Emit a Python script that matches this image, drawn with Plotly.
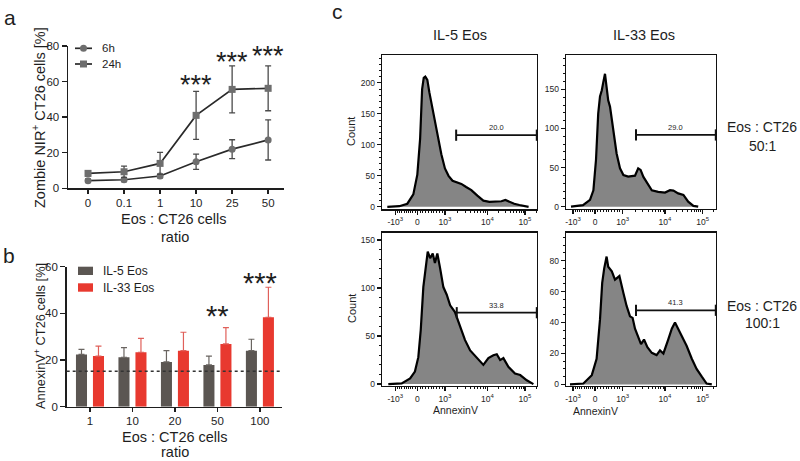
import plotly.graph_objects as go
import math

W, H = 800, 461
FONT = "Liberation Sans, Arial, Helvetica, sans-serif"
INK = "#1e1e1e"

def px(x):
    return x / W

def py(y):
    return 1 - y / H

def dom_x(a, b):
    return [a / W, b / W]

def dom_y(top, bottom):
    return [1 - bottom / H, 1 - top / H]

# ---------------- Panel a data ----------------
ratios_a = ["0", "0.1", "1", "10", "25", "50"]
zombie_6h = [4.3, 4.8, 6.9, 14.9, 22.0, 27.2]
zombie_6h_sd = [1.0, 1.0, 1.0, 4.3, 5.3, 11.3]
zombie_24h = [8.4, 9.3, 14.0, 41.0, 55.6, 56.2]
zombie_24h_sd = [1.5, 3.2, 6.2, 13.5, 13.2, 12.6]
stars_a = {"10": ("***", 61.2), "25": ("***", 74.1), "50": ("***", 78.0)}

# ---------------- Panel b data ----------------
ratios_b = ["1", "10", "20", "50", "100"]
annexin_il5 = [22.4, 21.2, 19.2, 17.9, 24.0]
annexin_il5_sd = [2.2, 4.1, 4.8, 3.8, 4.9]
annexin_il33 = [21.7, 23.3, 24.0, 26.9, 38.3]
annexin_il33_sd = [4.3, 6.0, 7.9, 7.0, 12.9]
baseline_level = 15.2
stars_b = {"50": ("**", 41.4), "100": ("***", 55.6)}

# ---------------- Panel c data (display scale: decades-like units) ----------------
axis_tick_pos = [-0.55, 0.0, 0.69, 1.75, 2.69]
axis_tick_text = ["-10<sup>3</sup>", "0", "10<sup>3</sup>", "10<sup>4</sup>", "10<sup>5</sup>"]

tl_t = [-0.75, -0.45, -0.25, -0.1, 0.0, 0.07, 0.12, 0.16, 0.2, 0.25, 0.3, 0.36, 0.44, 0.52,
        0.6, 0.69, 0.78, 0.88, 1.0, 1.1, 1.22, 1.35, 1.5, 1.65, 1.8, 1.95, 2.1, 2.2, 2.3,
        2.42, 2.55, 2.68, 2.78]
tl_count = [0, 1, 5, 20, 52, 110, 190, 208, 210, 205, 185, 165, 140, 110, 85, 62, 50, 42,
            39, 37, 32, 27, 18, 10, 8, 9, 9, 11, 8, 5, 3, 1, 0]

tr_t = [-0.6, -0.3, -0.125, -0.04, 0.025, 0.08, 0.125, 0.17, 0.21, 0.25, 0.29, 0.33, 0.375,
        0.46, 0.54, 0.625, 0.71, 0.83, 1.0, 1.08, 1.14, 1.21, 1.29, 1.42, 1.58, 1.75, 1.875,
        1.96, 2.08, 2.21, 2.33, 2.46, 2.58]
tr_count = [0, 2, 8.6, 21, 60, 119, 141, 149, 160, 170, 153, 136, 128, 94, 68, 49, 40.5,
            38.4, 39.6, 49, 47, 38, 32, 21, 19, 18, 21, 20.5, 17, 15, 6.4, 1, 0]

bl_t = [-0.725, -0.39, -0.18, -0.06, 0.025, 0.085, 0.15, 0.22, 0.26, 0.32, 0.385, 0.44, 0.5,
        0.57, 0.65, 0.735, 0.82, 0.94, 1.07, 1.19, 1.32, 1.485, 1.65, 1.775, 1.9, 1.985,
        2.07, 2.15, 2.275, 2.44, 2.57, 2.735, 2.9]
bl_count = [0, 0.7, 6, 13, 28, 56, 101, 129, 138, 131, 136, 126, 136, 120.5, 101, 93, 82,
            75, 60, 46, 35, 27, 20, 27, 30, 31, 25, 27, 18, 11, 9.4, 4, 0]

br_t = [-0.625, -0.29, -0.08, 0.04, 0.125, 0.18, 0.23, 0.29, 0.33, 0.42, 0.5, 0.61, 0.71,
        0.79, 0.875, 0.94, 1.0, 1.08, 1.15, 1.225, 1.31, 1.42, 1.54, 1.625, 1.71, 1.83,
        1.92, 2.0, 2.08, 2.17, 2.29, 2.42, 2.54, 2.67, 2.79, 2.92]
br_count = [0, 0.6, 6, 16.6, 42, 65.6, 75, 82.6, 76, 73, 67.7, 70, 59, 50.7, 44, 43, 36,
            30.5, 26, 29, 24, 20.4, 19, 22, 20, 29, 36, 40, 36, 31.5, 25, 16.6, 10, 5, 0.6, 0]

gate_start = [0.97, 1.025, 0.985, 1.025]
gate_end = [2.985, 3.02, 2.985, 3.02]
gate_level = [115.6, 91.7, 74.3, 47.9]
gate_pct = ["20.0", "29.0", "33.8", "41.3"]

fig = go.Figure()

# ---------- Panel a traces ----------
for name, vals, sd, sym in [("6h", zombie_6h, zombie_6h_sd, "circle"),
                            ("24h", zombie_24h, zombie_24h_sd, "square")]:
    fig.add_trace(go.Scatter(
        x=ratios_a, y=vals, mode="lines+markers", name=name,
        error_y=dict(type="data", array=sd, color="#4a4a4a", thickness=1.3, width=3),
        marker=dict(symbol=sym, size=7, color="#6e6e6e"),
        line=dict(color="#2a2a2a", width=1.7),
        xaxis="x", yaxis="y", showlegend=False, cliponaxis=False))

# ---------- Panel b traces ----------
fig.add_trace(go.Bar(
    x=ratios_b, y=annexin_il5, name="IL-5 Eos", marker=dict(color="#5b5652", line=dict(width=0)),
    width=0.26, offset=-0.33,
    error_y=dict(type="data", array=annexin_il5_sd, arrayminus=[0] * len(ratios_b),
                 symmetric=False, color="#6a6561", thickness=1.2, width=3),
    xaxis="x2", yaxis="y2", showlegend=False))
fig.add_trace(go.Bar(
    x=ratios_b, y=annexin_il33, name="IL-33 Eos", marker=dict(color="#e8392f", line=dict(width=0)),
    width=0.26, offset=0.07,
    error_y=dict(type="data", array=annexin_il33_sd, arrayminus=[0] * len(ratios_b),
                 symmetric=False, color="#e0605a", thickness=1.2, width=3),
    xaxis="x2", yaxis="y2", showlegend=False))

# ---------- Panel c traces ----------
hists = [(tl_t, tl_count, "x3", "y3"), (tr_t, tr_count, "x4", "y4"),
         (bl_t, bl_count, "x5", "y5"), (br_t, br_count, "x6", "y6")]
for i, (t, c, xa, ya) in enumerate(hists):
    fig.add_trace(go.Scatter(
        x=t, y=c, mode="lines", fill="tozeroy", fillcolor="#858585",
        line=dict(color="#000000", width=2.2), xaxis=xa, yaxis=ya, showlegend=False))
    fig.add_trace(go.Scatter(
        x=[gate_start[i], gate_end[i]], y=[gate_level[i], gate_level[i]],
        mode="lines+markers", line=dict(color="#111111", width=1.8),
        marker=dict(symbol="line-ns-open", size=8, line=dict(width=2, color="#111111")),
        xaxis=xa, yaxis=ya, showlegend=False, cliponaxis=False))

# ---------- Axes ----------
common = dict(showline=True, linecolor=INK, linewidth=1.5, ticks="outside", tickcolor=INK,
              tickwidth=1.5, ticklen=5, showgrid=False, zeroline=False, automargin=False,
              tickfont=dict(family=FONT, size=11.5, color=INK))
xcommon = dict(common, ticklen=4, ticklabelstandoff=-1)

layout = dict(
    width=W, height=H, margin=dict(l=0, r=0, t=0, b=0, autoexpand=False),
    paper_bgcolor="white", plot_bgcolor="white", showlegend=False,
    font=dict(family=FONT, color=INK),
    xaxis=dict(domain=dom_x(68, 284), anchor="y", type="category",
               range=[-0.556, 5.44], **xcommon),
    yaxis=dict(domain=dom_y(46, 188.3), anchor="x", range=[0, 80], dtick=20, **common),
    xaxis2=dict(domain=dom_x(66.7, 282), anchor="y2", type="category",
                range=[-0.548, 4.52], **xcommon),
    yaxis2=dict(domain=dom_y(266.7, 406.7), anchor="x2", range=[0, 60], dtick=20, **common),
)

# minor ticks for biexponential-like x axis
def disp(v):
    if v == 0:
        return 0.0
    if abs(v) <= 1000:
        return v / 1000 * (0.69 if v > 0 else 0.55)
    k = math.floor(math.log10(v))
    pos = {3: 0.69, 4: 1.75, 5: 2.69}
    step = {3: 1.06, 4: 0.94, 5: 0.94}
    return pos[k] + math.log10(v / 10 ** k) * step[k]

minor_x = [disp(s * m * 100) for s in (-1, 1) for m in range(1, 10)]
minor_x += [disp(m * 10 ** k) for k in (3, 4, 5) for m in range(2, 10)]

hist_axes = [
    ("xaxis3", "yaxis3", dom_x(382, 537), dom_y(55, 209.3), [-0.8825, 2.99], [-4, 245], 50, 10),
    ("xaxis4", "yaxis4", dom_x(566, 716), dom_y(55, 209), [-0.725, 3.025], [-3, 194], 50, 10),
    ("xaxis5", "yaxis5", dom_x(382, 537), dom_y(232.7, 386), [-0.8825, 2.99], [-2, 157.6], 50, 10),
    ("xaxis6", "yaxis6", dom_x(566, 716), dom_y(232.7, 386), [-0.725, 3.025], [-1, 98], 20, 5),
]
hcommon = dict(showline=True, linecolor="#111111", linewidth=1.4, mirror=True, ticks="outside",
               tickcolor="#111111", tickwidth=1.2, ticklen=4, showgrid=False, zeroline=False,
               automargin=False, tickfont=dict(family=FONT, size=8.5, color=INK))
for xa, ya, dx, dy, xr, yr, dt, mdt in hist_axes:
    xid = "x" + xa[5:]
    yid = "y" + ya[5:]
    layout[xa] = dict(domain=dx, anchor=yid, range=xr, tickmode="array",
                      tickvals=axis_tick_pos, ticktext=axis_tick_text,
                      minor=dict(ticks="outside", ticklen=2, tickcolor="#111111", tickwidth=1,
                                 tickmode="array", tickvals=minor_x),
                      **hcommon)
    layout[ya] = dict(domain=dy, anchor=xid, range=yr, dtick=dt,
                      minor=dict(ticks="outside", ticklen=2, tickcolor="#111111", tickwidth=1,
                                 dtick=mdt),
                      **hcommon)

fig.update_layout(**layout)

# ---------- Shapes ----------
shapes = [
    dict(type="line", xref="x2 domain", yref="y2", x0=0, x1=1, y0=baseline_level,
         y1=baseline_level, line=dict(color="#333333", width=1.6, dash="dot")),
    # legend a
    dict(type="line", xref="paper", yref="paper", x0=px(75), x1=px(92), y0=py(48.3), y1=py(48.3),
         line=dict(color="#2a2a2a", width=1.7)),
    dict(type="circle", xref="paper", yref="paper", x0=px(80), x1=px(87), y0=py(51.8), y1=py(44.8),
         fillcolor="#6e6e6e", line=dict(width=0)),
    dict(type="line", xref="paper", yref="paper", x0=px(75), x1=px(92), y0=py(64), y1=py(64),
         line=dict(color="#2a2a2a", width=1.7)),
    dict(type="rect", xref="paper", yref="paper", x0=px(80), x1=px(87), y0=py(67.5), y1=py(60.5),
         fillcolor="#6e6e6e", line=dict(width=0)),
    # legend b
    dict(type="rect", xref="paper", yref="paper", x0=px(78), x1=px(93), y0=py(275), y1=py(266.7),
         fillcolor="#5b5652", line=dict(width=0)),
    dict(type="rect", xref="paper", yref="paper", x0=px(78), x1=px(93), y0=py(291.7), y1=py(283.3),
         fillcolor="#e8392f", line=dict(width=0)),
]
fig.update_layout(shapes=shapes)

# ---------- Annotations ----------
ann = []

def text(x, y, s, size, angle=0, xanchor="center", color=INK):
    ann.append(dict(x=px(x), y=py(y), xref="paper", yref="paper", text=s, showarrow=False,
                    xanchor=xanchor, yanchor="middle", textangle=angle,
                    font=dict(family=FONT, size=size, color=color)))

text(10, 17, "a", 21)
text(9, 255, "b", 21)
text(337, 12, "c", 21)

text(39, 118, "Zombie NIR<sup>+</sup> CT26 cells [%]", 14.5, angle=-90)
text(174, 219, "Eos : CT26 cells", 14.5)
text(175, 237, "ratio", 14.5)
text(100, 48.3, "6h", 11.5, xanchor="left")
text(100, 64, "24h", 11.5, xanchor="left")

text(40, 336, "AnnexinV<sup>+</sup> CT26 cells [%]", 12.8, angle=-90)
text(175, 437, "Eos : CT26 cells", 14.5)
text(175, 452, "ratio", 14.5)
text(101, 270.8, "IL-5 Eos", 12, xanchor="left")
text(101, 287.5, "IL-33 Eos", 12, xanchor="left")

for cat, (s, yv) in stars_a.items():
    ann.append(dict(x=ratios_a.index(cat), y=yv, xref="x", yref="y", text=s, showarrow=False,
                    yanchor="middle", yshift=-6, font=dict(family=FONT, size=27, color=INK)))
for cat, (s, yv) in stars_b.items():
    ann.append(dict(x=ratios_b.index(cat), y=yv, xref="x2", yref="y2", text=s, showarrow=False,
                    yanchor="middle", yshift=-6, font=dict(family=FONT, size=29, color=INK)))

text(460, 35, "IL-5 Eos", 14.5)
text(644, 35, "IL-33 Eos", 14.5)
text(762, 127.5, "Eos : CT26", 14)
text(762.5, 146, "50:1", 14)
text(762, 306, "Eos : CT26", 14)
text(762.5, 323, "100:1", 14)
text(351, 132, "Count", 11, angle=-90)
text(352, 309, "Count", 11, angle=-90)
text(455.5, 410, "AnnexinV", 10.5)
text(595, 411, "AnnexinV", 10.5)

hist_ids = [("x3", "y3"), ("x4", "y4"), ("x5", "y5"), ("x6", "y6")]
for i, (xa, ya) in enumerate(hist_ids):
    ann.append(dict(x=(gate_start[i] + gate_end[i]) / 2, y=gate_level[i], xref=xa, yref=ya,
                    text=gate_pct[i], showarrow=False, yanchor="bottom", yshift=1,
                    font=dict(family=FONT, size=7.5, color=INK)))

fig.update_layout(annotations=ann)

fig.write_html("out.html", config={"displayModeBar": False, "staticPlot": True},
               post_script="document.body.style.margin='0';")
